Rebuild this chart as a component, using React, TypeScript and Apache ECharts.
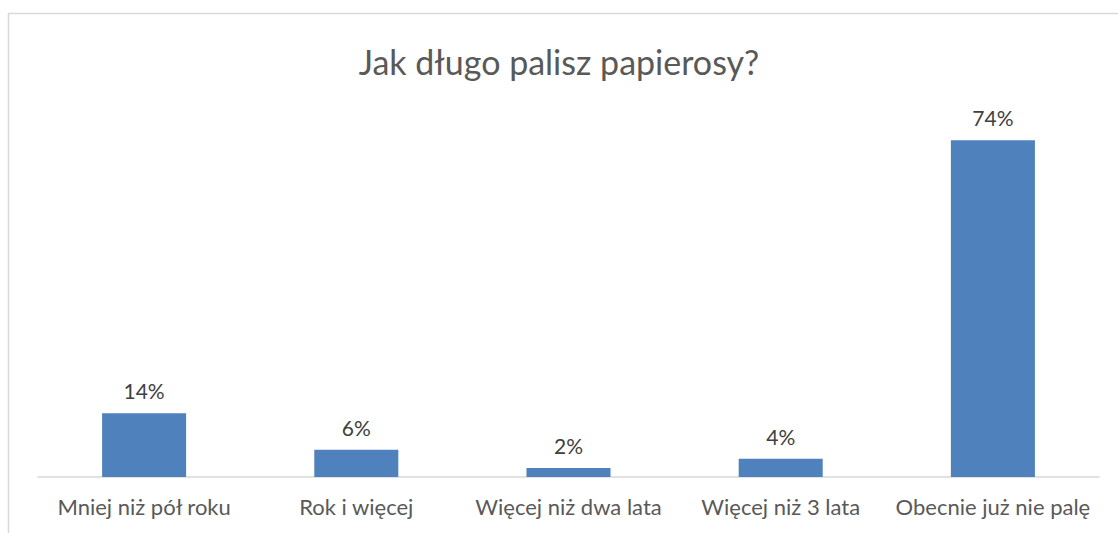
import React, { useEffect, useRef } from "react";
import * as echarts from "echarts";

const title = "Jak długo palisz papierosy?";
const categories = [
  "Mniej niż pół roku",
  "Rok i więcej",
  "Więcej niż dwa lata",
  "Więcej niż 3 lata",
  "Obecnie już nie palę",
];
const values = [14, 6, 2, 4, 74];

export default function App() {
  const ref = useRef<HTMLDivElement>(null);
  useEffect(() => {
    if (!ref.current) return;
    const chart = echarts.init(ref.current, undefined, { renderer: "svg" });
    const font = "Lato, 'Open Sans', sans-serif";
    chart.setOption({
      animation: false,
      backgroundColor: "#ffffff",
      title: {
        text: title,
        left: "center",
        top: 39,
        textStyle: { fontFamily: font, fontSize: 34, fontWeight: "normal", color: "#595959" },
      },
      graphic: [
        {
          type: "rect",
          shape: { x: 8.5, y: 13.5, width: 1130, height: 540 },
          style: { fill: "none", stroke: "#d9d9d9", lineWidth: 1.5 },
          silent: true,
        },
      ],
      grid: { left: 38, right: 19, top: 113, bottom: 56, containLabel: false },
      xAxis: {
        type: "category",
        data: categories,
        axisLine: { show: true, lineStyle: { color: "#d9d9d9", width: 1.5 } },
        axisTick: { show: false },
        axisLabel: { fontFamily: font, fontSize: 22, color: "#595959", margin: 18, interval: 0 },
      },
      yAxis: {
        type: "value",
        min: 0,
        max: 80,
        interval: 10,
        show: false,
        splitLine: { show: false },
      },
      series: [
        {
          type: "bar",
          data: values,
          barWidth: "39.6%",
          itemStyle: { color: "#4f81bd" },
          label: {
            show: true,
            position: "top",
            distance: 12,
            formatter: "{c}%",
            fontFamily: font,
            fontSize: 21,
            color: "#404040",
          },
        },
      ],
    });
    return () => chart.dispose();
  }, []);
  return (
    <div
      ref={ref}
      style={{ position: "absolute", left: 0, top: 0, width: 1118, height: 533 }}
    />
  );
}
